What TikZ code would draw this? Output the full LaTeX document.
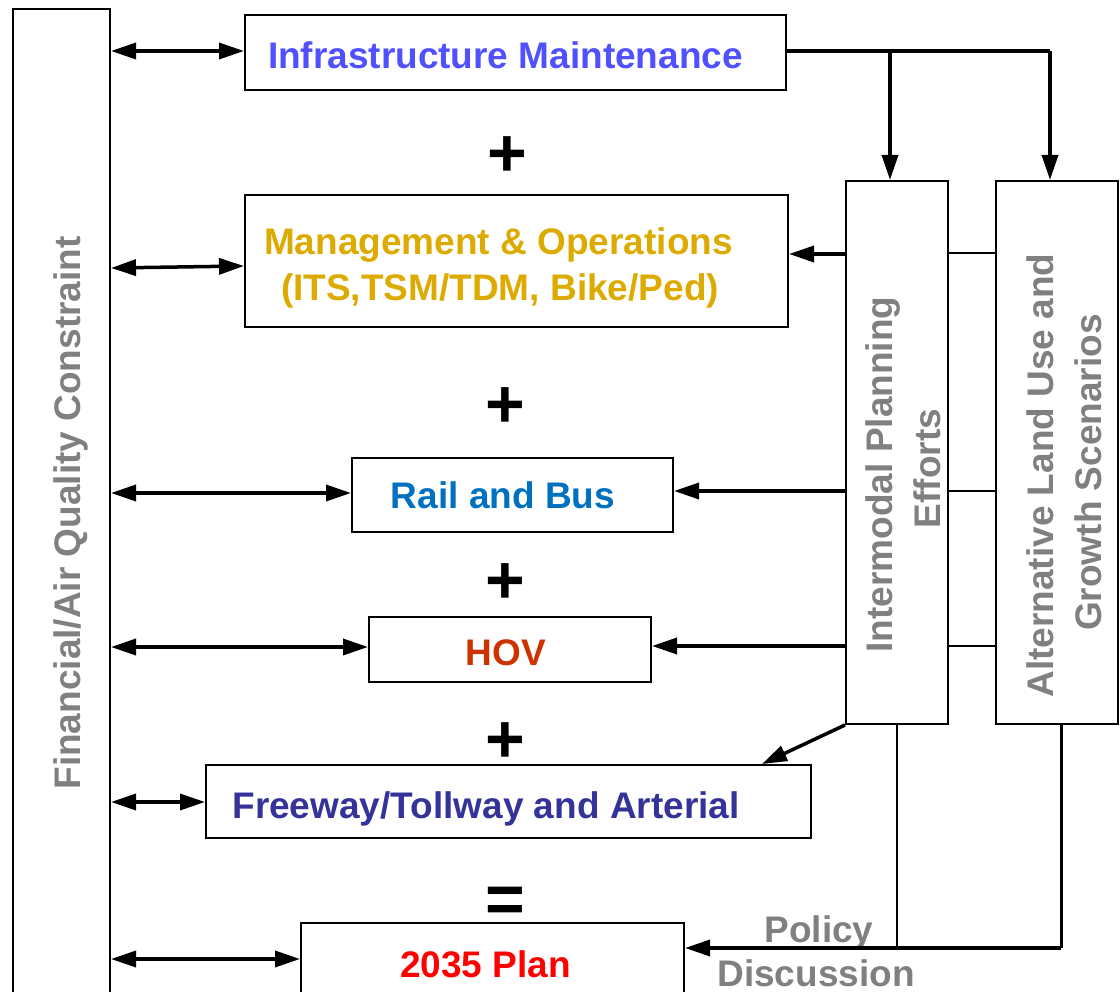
\documentclass[tikz,border=0pt]{standalone}
\usepackage{fontspec}
\setmainfont{Liberation Sans}
\usetikzlibrary{arrows.meta}
\definecolor{infrablue}{RGB}{80,80,255}
\definecolor{mgold}{RGB}{221,170,0}
\definecolor{railblue}{RGB}{0,112,192}
\definecolor{hovred}{RGB}{204,51,0}
\definecolor{fwyblue}{RGB}{51,51,153}
\definecolor{planred}{RGB}{255,0,0}
\definecolor{txtgray}{RGB}{128,128,128}
\begin{document}
\begin{tikzpicture}[x=1pt,y=-1pt,
  box/.style={draw, line width=2pt, inner sep=0pt, fill=none},
  txt/.style={font=\fontsize{37}{45}\selectfont\bfseries, inner sep=0pt, anchor=base},
  gtxt/.style={txt, text=txtgray},
  sym/.style={font=\fontsize{68}{68}\selectfont\bfseries, inner sep=0pt},
  tip/.tip={Triangle[length=25pt,width=16pt]},
  arr/.style={line width=3.5pt, -tip},
  dbl/.style={line width=3.5pt, tip-tip},
  thk/.style={line width=3.5pt},
  thn/.style={line width=2pt}
]
\useasboundingbox (0,0) rectangle (1120,992);

% boxes
\node[box, minimum width=97pt, minimum height=1001pt] (fin) at (61.5,509.5) {};
\node[box, minimum width=541pt, minimum height=75pt] (infra) at (515.5,52.5) {};
\node[box, minimum width=543pt, minimum height=132pt] (mgmt) at (516.5,261) {};
\node[box, minimum width=321pt, minimum height=74pt] (rail) at (512.5,495) {};
\node[box, minimum width=282pt, minimum height=65pt] (hov) at (510,649.5) {};
\node[box, minimum width=605pt, minimum height=73pt] (fwy) at (508.5,801.5) {};
\node[box, minimum width=383pt, minimum height=87pt] (plan) at (492.5,966.5) {};
\node[box, minimum width=102pt, minimum height=543pt] (inter) at (897,452.5) {};
\node[box, minimum width=122pt, minimum height=543pt] (alt) at (1057,452.5) {};

% texts
\node[gtxt, rotate=90] (tfin) at (80,513) {Financial/Air Quality Constraint};
\node[txt, text=infrablue] (tinfra) at (505.5,69) {Infrastructure Maintenance};
\node[txt, text=mgold] (tmg1) at (498.5,255) {Management \& Operations};
\node[txt, text=mgold] (tmg2) at (500,301) {(ITS,TSM/TDM, Bike/Ped)};
\node[txt, text=railblue] (trail) at (503,508) {Rail and Bus};
\node[txt, text=hovred] (thov) at (506,665) {HOV};
\node[txt, text=fwyblue] (tfwy) at (486,818) {Freeway/Tollway and Arterial};
\node[txt, text=planred] (tplan) at (485.5,977) {2035 Plan};
\node[gtxt, rotate=90] (tint1) at (892,474.5) {Intermodal Planning};
\node[gtxt, rotate=90] (tint2) at (940,468.5) {Efforts};
\node[gtxt, rotate=90] (talt1) at (1053,475.5) {Alternative Land Use and};
\node[gtxt, rotate=90] (talt2) at (1101,472.5) {Growth Scenarios};
\node[gtxt] (tpol) at (819,942) {Policy};
\node[gtxt] (tdis) at (816,986) {Discussion};

% operators
\node[sym] (p1) at (507,157) {+};
\node[sym] (p2) at (505,408) {+};
\node[sym] (p3) at (505,584) {+};
\node[sym] (p4) at (505,743) {+};
\node[sym] (eq) at (505,905) {=};

% double arrows from constraint box
\draw[dbl] (fin.east |- 0,51) -- (infra.west |- 0,51);
\draw[dbl] (fin.east |- 0,268) -- (mgmt.west |- 0,266);
\draw[dbl] (fin.east |- 0,493) -- (rail.west |- 0,493);
\draw[dbl] (fin.east |- 0,647) -- (hov.west |- 0,647);
\draw[dbl] (fin.east |- 0,802) -- (fwy.west |- 0,802);
\draw[dbl] (fin.east |- 0,959) -- (plan.west |- 0,959);

% top connectors
\coordinate (j1) at (890,51);
\coordinate (j2) at (1050,51);
\draw[thk] (infra.east |- j1) -- (j2);
\draw[arr] (j1) -- (j1 |- inter.north);
\draw[arr] (j2) -- (j2 |- alt.north);

% intermodal to modes
\draw[arr] (inter.west |- 0,254) -- (mgmt.east |- 0,254);
\draw[arr] (inter.west |- 0,491) -- (rail.east |- 0,491);
\draw[arr] (inter.west |- 0,646) -- (hov.east |- 0,646);
\draw[arr] (inter.south west) -- (fwy.north -| 762,0);

% links intermodal - alternative
\draw[thn] (inter.east |- 0,253) -- (alt.west |- 0,253);
\draw[thn] (inter.east |- 0,491) -- (alt.west |- 0,491);
\draw[thn] (inter.east |- 0,646) -- (alt.west |- 0,646);

% policy discussion
\coordinate (b1) at (897,948);
\coordinate (b2) at (1061,948);
\draw[thn] (inter.south) -- (b1);
\draw[line width=3pt] (alt.south -| b2) -- (b2);
\draw[arr] (b2) -- (plan.east |- b2);
\end{tikzpicture}
\end{document}
